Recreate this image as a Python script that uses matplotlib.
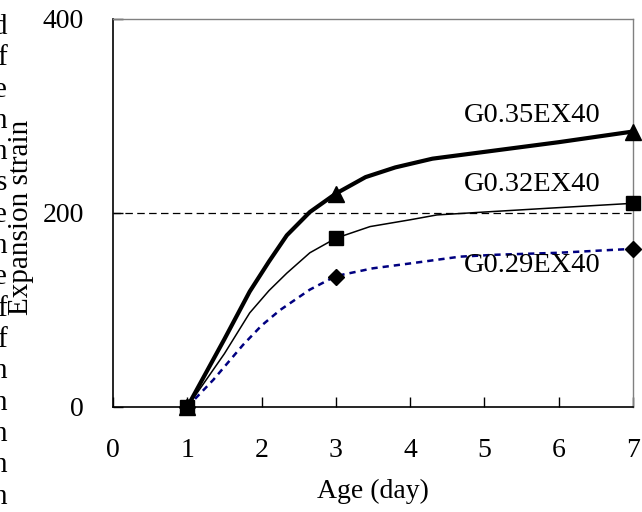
import matplotlib
matplotlib.use("Agg")
import matplotlib.pyplot as plt

plt.rcParams['font.family'] = ['Liberation Serif', 'DejaVu Serif']

# traced curves (age in days, expansion strain)
days_35 = [1, 1.2, 1.5, 1.84, 2.1, 2.34, 2.65, 3.0, 3.4, 3.8, 4.3, 5.0, 6.0, 7.0]
strain_35 = [0, 28, 70, 119, 150, 177, 201, 220, 237, 247, 256, 263, 273, 284]

days_32 = [1, 1.2, 1.5, 1.84, 2.1, 2.34, 2.65, 3.0, 3.46, 4.0, 4.36, 5.0, 5.88, 7.0]
strain_32 = [0, 22, 55, 97, 120, 138, 159, 174, 186, 193, 198, 201, 205, 210]

days_29 = [1, 1.35, 1.75, 2.0, 2.25, 2.65, 3.0, 3.5, 4.0, 4.67, 5.17, 6.0, 6.73, 7.0]
strain_29 = [0, 28, 64, 84, 100, 121, 135, 143, 148, 155, 157, 159, 162, 163]

# measured points
mark_days = [1, 3, 7]
mark_35 = [0, 220, 284]
mark_32 = [0, 174, 210]
mark_29 = [0, 134, 163]

labels = ["G0.35EX40", "G0.32EX40", "G0.29EX40"]
label_y = [301, 229, 146]

# cut-off ends of the page text at the left edge
edge_letters = ["d", "f", "e", "n", "n", "s", "e", "n", "e", "f", "f", "n", "n", "n", "n", "n"]

fig = plt.figure(figsize=(6.42, 5.12), dpi=100)
ax = fig.add_axes([113 / 642, 105 / 512, 520 / 642, 388 / 512])

ax.axhline(200, color="black", lw=0.9, dashes=(6, 3.5), zorder=1)

ax.plot(days_29, strain_29, color="#000080", lw=1.8, dashes=(2.5, 2), zorder=2)
ax.plot(days_32, strain_32, color="black", lw=1.1, zorder=3)
ax.plot(days_35, strain_35, color="black", lw=3.0, zorder=4)

ax.plot(mark_days, mark_29, ls="none", marker="D", ms=8, color="black", clip_on=False, zorder=5)
ax.plot(mark_days, mark_35, ls="none", marker="^", ms=11, color="black", clip_on=False, zorder=6)
ax.plot(mark_days, mark_32, ls="none", marker="s", ms=10, color="black", clip_on=False, zorder=7)

for lab, yy in zip(labels, label_y):
    ax.text(5.65, yy, lab, ha="center", va="center", fontsize=20.5, zorder=8)

ax.set_xlim(0, 7)
ax.set_ylim(0, 400)
ax.set_xticks(range(0, 8))
ax.set_yticks([0, 200, 400])
ax.tick_params(direction="in", length=7, width=1, labelsize=20)
ax.tick_params(axis="x", pad=22)
ax.tick_params(axis="y", pad=21)
ax.tick_params(top=False, right=False)

for s in ["left", "bottom"]:
    ax.spines[s].set_linewidth(1.2)
for s in ["right", "top"]:
    ax.spines[s].set_color("#808080")
    ax.spines[s].set_linewidth(1)

ax.set_xlabel("Age (day)", fontsize=20, labelpad=12)
ax.set_ylabel("Expansion strain", fontsize=21)
ax.yaxis.set_label_coords(-79 / 520, 0.49)

for i, ch in enumerate(edge_letters):
    ypix = 27 + i * 31.3
    fig.text(7 / 642, 1 - ypix / 512, ch, ha="right", va="center", fontsize=21)

fig.savefig("out.png", dpi=100)
